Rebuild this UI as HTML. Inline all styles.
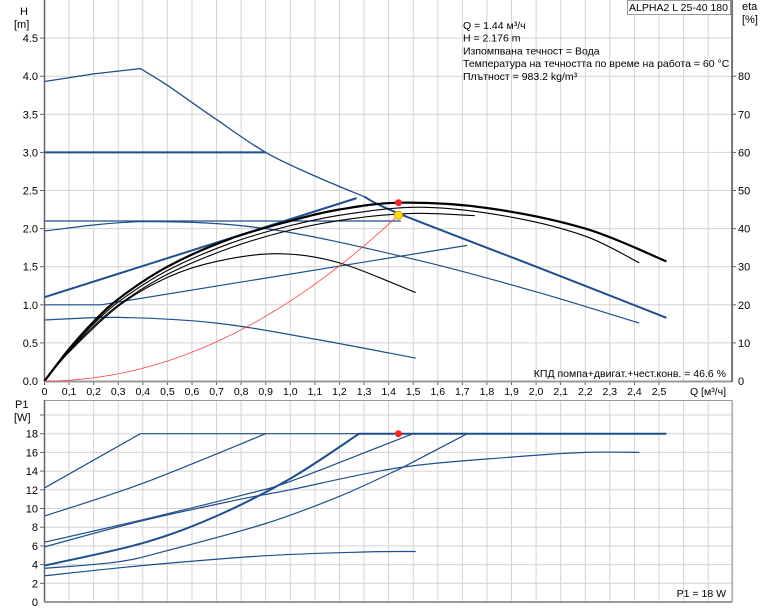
<!DOCTYPE html>
<html><head><meta charset="utf-8"><style>
body{margin:0;background:#fff;}
svg{display:block;font-family:"Liberation Sans",sans-serif;}
</style></head><body>
<svg id="s" width="774" height="611" xmlns="http://www.w3.org/2000/svg"></svg>
<script>
const S=document.getElementById('s');
let h='';
const X0=44.5,XS=245.8;
const fx=q=>X0+q*XS;
const Y0=381,YS=76.2; const fy=v=>Y0-v*YS;
const B0=602,BS=9.35; const fb=v=>B0-v*BS;
for(let i=1;i<=28;i++){const x=fx(i/10);h+=`<line x1="${x}" y1="0" x2="${x}" y2="381" stroke="#d4d4d4"/>`;h+=`<line x1="${x}" y1="400" x2="${x}" y2="602" stroke="#d4d4d4"/>`;}
for(let i=1;i<=9;i++){const y=fy(i*0.5);h+=`<line x1="44.5" y1="${y}" x2="732" y2="${y}" stroke="#d4d4d4"/>`;h+=`<line x1="40" y1="${y}" x2="44.5" y2="${y}" stroke="#666"/><text x="38" y="${y+4}" font-size="11" text-anchor="end">${(i*0.5).toFixed(1)}</text>`;}
h+=`<text x="38" y="385" font-size="11" text-anchor="end">0.0</text>`;
for(let i=1;i<=8;i++){const y=fy(i*0.5);h+=`<line x1="732" y1="${y}" x2="736" y2="${y}" stroke="#666"/><text x="738" y="${y+4}" font-size="11">${i*10}</text>`;}
h+=`<text x="738" y="385" font-size="11">0</text>`;
for(let i=1;i<=10;i++){const y=fb(i*2);h+=`<line x1="44.5" y1="${y}" x2="732" y2="${y}" stroke="#d4d4d4"/>`;h+=`<line x1="40" y1="${y}" x2="44.5" y2="${y}" stroke="#666"/>`;if(i<10)h+=`<text x="38" y="${y+4}" font-size="11" text-anchor="end">${i*2}</text>`;}
h+=`<text x="38" y="606" font-size="11" text-anchor="end">0</text>`;
for(let i=0;i<=25;i++){const x=fx(i/10);h+=`<line x1="${x}" y1="381" x2="${x}" y2="385" stroke="#666"/><text x="${x}" y="395" font-size="10.5" text-anchor="middle">${i==0?'0':(i/10).toFixed(1).replace('.',',')}</text>`;}
h+=`<text x="726" y="395" font-size="10.5" text-anchor="end">Q [м³/ч]</text>`;
h+=`<line x1="44.5" y1="0" x2="44.5" y2="382" stroke="#666" stroke-width="1.5"/><line x1="44" y1="381.5" x2="732" y2="381.5" stroke="#999" stroke-width="2"/><line x1="732" y1="0" x2="732" y2="382" stroke="#555" stroke-width="1.5"/>`;
h+=`<rect x="44.5" y="400.5" width="687.5" height="201.5" fill="none" stroke="#999"/><line x1="44.5" y1="400" x2="44.5" y2="602" stroke="#666" stroke-width="1.5"/><line x1="44" y1="602" x2="732" y2="602" stroke="#999" stroke-width="2"/>`;
h+=`<text x="20" y="15" font-size="11">H</text><text x="14" y="28" font-size="11">[m]</text>`;
h+=`<text x="742" y="10" font-size="11">eta</text><text x="742" y="23" font-size="11">[%]</text>`;
h+=`<text x="15" y="408" font-size="11">P1</text><text x="14" y="421" font-size="11">[W]</text>`;
h+=`<rect x="627.5" y="0.5" width="103" height="14" fill="#fff" stroke="#999"/><text x="629" y="11" font-size="10.5" textLength="99">ALPHA2 L 25-40 180</text>`;
const T=['Q = 1.44 м³/ч','H = 2.176 m','Изпомпвана течност = Вода','Температура на течността по време на работа = 60 °C','Плътност = 983.2 kg/m³'];
T.forEach((t,i)=>{h+=`<text x="463" y="${29+i*12.7}" font-size="10.5">${t}</text>`;});
h+=`<text x="726" y="377" font-size="10.5" text-anchor="end">КПД помпа+двигат.+чест.конв. = 46.6 %</text>`;
h+=`<text x="726" y="597" font-size="10.5" text-anchor="end">P1 = 18 W</text>`;
function spline(pts,fyy){
 let d=`M${fx(pts[0][0]).toFixed(1)},${fyy(pts[0][1]).toFixed(1)}`;
 for(let i=0;i<pts.length-1;i++){const p0=pts[i-1]||pts[i],p1=pts[i],p2=pts[i+1],p3=pts[i+2]||p2;
  const P=p=>[fx(p[0]),fyy(p[1])];const a=P(p0),b=P(p1),c=P(p2),e=P(p3);
  const c1=[b[0]+(c[0]-a[0])/6,b[1]+(c[1]-a[1])/6],c2=[c[0]-(e[0]-b[0])/6,c[1]-(e[1]-b[1])/6];
  d+=`C${c1[0].toFixed(1)},${c1[1].toFixed(1)} ${c2[0].toFixed(1)},${c2[1].toFixed(1)} ${c[0].toFixed(1)},${c[1].toFixed(1)}`;}
 return d;}
function fn(f,a,b,fyy){let d='';for(let i=0;i<=80;i++){const q=a+(b-a)*i/80;d+=(i?'L':'M')+fx(q).toFixed(1)+','+fyy(f(q)).toFixed(1);}return d;}
const P=(d,c,w)=>{h+=`<path d="${d}" fill="none" stroke="${c}" stroke-width="${w}" stroke-linejoin="round"/>`;};
const BL='#1f4e8c';
P(`M${fx(0)},${fy(3.93)}L${fx(0.2)},${fy(4.03)}L${fx(0.39)},${fy(4.1)}`+spline([[0.39,4.1],[0.5,3.88],[0.7,3.43],[0.9,3.0],[1.1,2.69],[1.3,2.42]],fy).replace('M','L'),BL,1.3);
P(spline([[1.3,2.42],[1.44,2.2],[2.0,1.5],[2.53,0.83]],fy),BL,2);
P(`M${fx(0)},${fy(3)}L${fx(0.9)},${fy(3)}`,BL,2);
P(`M${fx(0)},${fy(2.1)}L${fx(1.45)},${fy(2.1)}`,BL,1.3);
P(`M${fx(0)},${fy(1.1)}L${fx(1.27)},${fy(2.4)}`,BL,2);
P(`M${fx(0)},${fy(1.0)}L${fx(0.23)},${fy(1.0)}L${fx(1.72)},${fy(1.78)}`,BL,1.2);
P(spline([[0,1.97],[0.4,2.09],[0.9,2.0],[1.5,1.6],[2.0,1.17],[2.42,0.76]],fy),BL,1.2);
P(spline([[0,0.8],[0.3,0.835],[0.7,0.76],[1.1,0.55],[1.51,0.3]],fy),BL,1.2);
const base=[[0,0],[0.1,0.42],[0.2,0.78],[0.31,1.1],[0.5,1.5],[0.75,1.86],[1.0,2.1],[1.2,2.25],[1.45,2.34],[1.8,2.27],[2.2,2.0],[2.53,1.57]];
P(spline(base,fy),'#000',2.2);
P(spline([[0,0],[0.1,0.4],[0.2,0.75],[0.31,1.06],[0.5,1.45],[0.75,1.8],[1.0,2.04],[1.25,2.2],[1.55,2.28],[1.9,2.15],[2.2,1.9],[2.42,1.55]],fy),'#000',1.1);
P(spline([[0,0],[0.1,0.39],[0.2,0.72],[0.31,1.02],[0.5,1.4],[0.75,1.74],[1.0,1.98],[1.25,2.13],[1.5,2.2],[1.75,2.17]],fy),'#000',1.1);
P(spline([[0,0],[0.1,0.38],[0.3,0.98],[0.5,1.36],[0.7,1.57],[0.95,1.67],[1.2,1.55],[1.51,1.16]],fy),'#000',1.1);
P(fn(q=>1.05*q*q,0,1.44,fy),'#ff4040',0.8);
h+=`<circle cx="${fx(1.44)}" cy="${fy(2.34)}" r="3.5" fill="#f22"/>`;
h+=`<circle cx="${fx(1.44)}" cy="${fy(2.176)}" r="4" fill="#ffe000" stroke="#f0a000"/>`;
P(`M${fx(0)},${fb(12.2)}L${fx(0.39)},${fb(18)}L${fx(0.9)},${fb(18)}`,BL,1.2);
P(spline([[0,9.2],[0.4,12.7],[0.9,18]],fb)+`L${fx(1.28)},${fb(18)}`,BL,1.2);
P(spline([[0,3.9],[0.4,6.3],[0.7,9.2],[1.0,13.2],[1.28,18]],fb)+`L${fx(2.53)},${fb(18)}`,BL,2);
P(spline([[0,6.4],[0.4,8.8],[0.8,11.4],[1.0,12.9],[1.45,17.5],[1.5,18]],fb),BL,1.2);
P(spline([[0,5.9],[0.4,8.7],[0.8,11.0],[1.0,12.0],[1.45,14.4],[1.9,15.5],[2.2,16],[2.42,16]],fb),BL,1.2);
P(spline([[0,3.6],[0.3,4.3],[0.5,5.5],[0.9,8.4],[1.2,11.3],[1.45,14.3]],fb)+`L${fx(1.72)},${fb(18)}`,BL,1.2);
P(spline([[0,2.8],[0.4,3.9],[0.9,4.95],[1.3,5.35],[1.51,5.4]],fb),BL,1.2);
h+=`<circle cx="${fx(1.44)}" cy="${fb(18)}" r="3.5" fill="#f22"/>`;
S.innerHTML=h;
</script>
</body></html>
